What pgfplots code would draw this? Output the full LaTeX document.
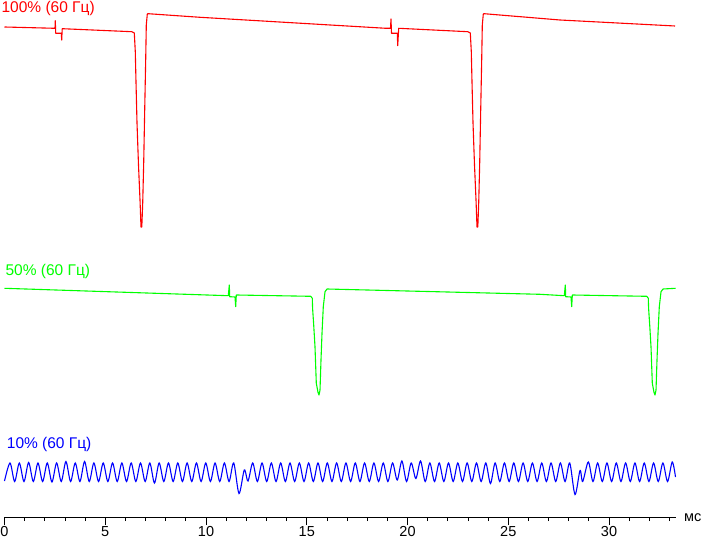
\documentclass[border=0pt]{standalone}
\usepackage{pgfplots}
\pgfplotsset{compat=1.18}
\usepackage{fontspec}
\setmainfont{Liberation Sans}
\definecolor{cRed}{RGB}{255,0,0}
\definecolor{cGreen}{RGB}{0,255,0}
\definecolor{cBlue}{RGB}{0,0,255}
\begin{document}
\begin{tikzpicture}
\begin{axis}[
  at={(4.5pt,26pt)}, anchor=south west,
  scale only axis, width=671.5pt, height=517pt,
  xmin=0, xmax=33.325, ymin=0, ymax=517,
  clip=false,
  axis x line=bottom, axis y line=none,
  axis line style={black, line width=0.8pt, -},
  tick align=outside,
  xtick={0,5,10,15,20,25,30},
  minor xtick={1,2,3,4,6,7,8,9,11,12,13,14,16,17,18,19,21,22,23,24,26,27,28,29,31,32,33},
  major tick length=8pt, minor tick length=4pt,
  tick style={black, line width=0.8pt},
  /pgf/number format/assume math mode=true,
  xticklabel style={font=\fontsize{14.5}{16}\selectfont, inner sep=1pt},
]
% red 100%
\addplot[cRed, line width=1.1pt, line join=round] coordinates {
(0,490) (2.506,488.7) (2.521,496.3) (2.541,483.7) (2.819,483.7) (2.839,477) (2.864,488.3)
(6.313,485.3) (6.442,484) (6.491,465.3) (6.526,435) (6.576,394) (6.650,352) (6.725,317)
(6.774,290) (6.814,290) (6.859,314) (6.908,354) (6.958,407) (7.007,457) (7.037,492)
(7.087,503) (7.122,503.3) (9.702,499.7) (18.933,488.7)
(19.156,488.7) (19.181,498) (19.206,483.7) (19.494,483.7) (19.514,471.3) (19.563,488.7)
(22.988,485.3) (23.117,484) (23.166,465.3) (23.201,435) (23.251,394) (23.325,352) (23.400,317)
(23.449,290) (23.489,290) (23.534,314) (23.583,354) (23.633,407) (23.682,457) (23.712,492)
(23.762,503) (23.797,503.3) (27.568,497) (33.276,491)
};
% green 50%
\addplot[cGreen, line width=1.1pt, line join=round] coordinates {
(0,228.7) (11.107,221.3) (11.156,232) (11.176,220.3) (11.439,220) (11.474,210.3) (11.504,222)
(15.196,220.7) (15.275,218.7) (15.290,208.7) (15.345,192) (15.409,170.3) (15.474,133.7)
(15.558,124.7) (15.608,122) (15.658,127) (15.707,157) (15.757,183.7) (15.821,210.3)
(15.906,225.3) (16.005,228) (26.576,222.7)
(27.782,221.3) (27.831,232) (27.851,220.3) (28.114,220) (28.149,210.3) (28.179,222)
(31.871,220.7) (31.950,218.7) (31.965,208.7) (32.020,192) (32.084,170.3) (32.149,133.7)
(32.233,124.7) (32.283,122) (32.333,127) (32.382,157) (32.432,183.7) (32.496,210.3)
(32.581,225.3) (32.680,228) (33.310,228.7)
};
% blue 10%
\addplot[cBlue, line width=1.1pt, smooth, tension=0.5] coordinates {
(0,36) (0.273,54) (0.504,35.5) (0.736,54) (0.967,35.5) (1.198,54.5) (1.430,35.5) (1.661,54) (1.892,35.5)
(2.123,54) (2.355,35) (2.586,54) (2.817,35.5) (3.049,55.5) (3.280,35.5) (3.511,54) (3.743,35.5)
(3.974,55.5) (4.205,35.5) (4.436,54) (4.668,35.5) (4.899,54) (5.130,35.5) (5.362,54) (5.593,35.5)
(5.824,54) (6.056,35.5) (6.287,54) (6.518,35.5) (6.749,54) (6.981,35.5) (7.212,54) (7.443,34)
(7.675,54) (7.906,35.5) (8.137,54) (8.369,35.5) (8.600,54) (8.831,35.5) (9.062,54) (9.294,35.5)
(9.525,54) (9.756,35.5) (9.988,54) (10.219,35.5) (10.450,54) (10.682,35.5) (10.913,54) (11.144,35.5)
(11.375,54) (11.638,23.5) (11.901,47) (12.085,36)
(12.318,54) (12.549,35.5) (12.781,54) (13.012,35.5) (13.243,54) (13.475,35.5) (13.706,54) (13.938,35.5)
(14.169,54) (14.400,35.5) (14.632,54) (14.863,35.5) (15.094,54) (15.326,35.5) (15.557,54) (15.788,35.5)
(16.020,54) (16.251,35.5) (16.482,54) (16.714,35.5) (16.945,54) (17.176,35.5) (17.408,54) (17.639,35.5)
(17.870,54) (18.102,35.5) (18.333,54) (18.565,35.5) (18.796,54) (19.027,35.5) (19.259,54) (19.490,37)
(19.721,56) (19.953,35.5) (20.184,54) (20.415,38.5) (20.647,56) (20.878,35.5) (21.109,54) (21.341,35.5)
(21.572,54) (21.803,35.5) (22.035,54) (22.266,35.5) (22.497,54) (22.729,35.5) (22.960,54) (23.192,35.5)
(23.423,54) (23.654,35.5) (23.886,54) (24.117,33.5) (24.348,54) (24.580,35.5) (24.811,54) (25.042,35.5)
(25.274,54) (25.505,35.5) (25.736,54) (25.968,35.5) (26.199,54) (26.430,35.5) (26.662,54) (26.893,35.5)
(27.124,54) (27.356,35.5) (27.587,54) (27.819,35.5) (28.050,54)
(28.313,22.5) (28.561,46.5) (28.695,35.5)
(28.973,55) (29.204,35.5) (29.436,54) (29.667,35.5) (29.898,54) (30.130,35.5) (30.361,54) (30.593,35.5)
(30.824,54) (31.055,35.5) (31.287,54) (31.518,35.5) (31.749,54) (31.981,35.5) (32.212,54) (32.443,35.5)
(32.675,54) (32.906,35.5) (33.137,55) (33.300,40)
};
\end{axis}
\node[anchor=base west, inner sep=0, text=cRed, font=\fontsize{15.5}{18}\selectfont] at (1.4pt,530.3pt) {100\% (60 Гц)};
\node[anchor=base west, inner sep=0, text=cGreen, font=\fontsize{15.5}{18}\selectfont] at (5.4pt,267.3pt) {50\% (60 Гц)};
\node[anchor=base west, inner sep=0, text=cBlue, font=\fontsize{15.5}{18}\selectfont] at (6.7pt,94pt) {10\% (60 Гц)};
\node[anchor=base west, inner sep=0, font=\fontsize{14.5}{16}\selectfont] at (684pt,22pt) {мс};
\pgfresetboundingbox
\useasboundingbox (0pt,0pt) rectangle (703pt,543pt);
\end{tikzpicture}
\end{document}
